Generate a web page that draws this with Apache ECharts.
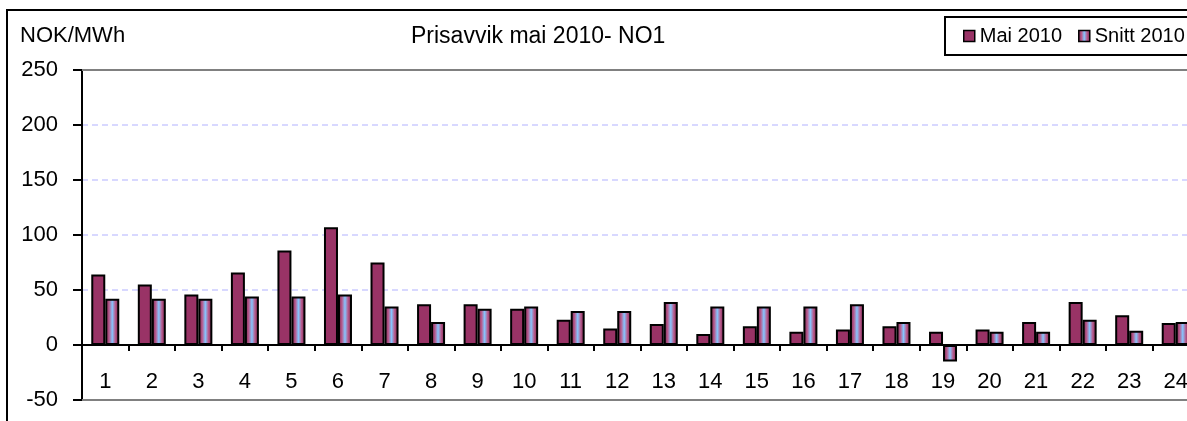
<!DOCTYPE html>
<html>
<head>
<meta charset="utf-8">
<script src="https://cdn.jsdelivr.net/npm/echarts@6/dist/echarts.min.js"></script>
<style>
html,body{margin:0;padding:0;background:#fff;}
#chart{width:1187px;height:421px;}
</style>
</head>
<body>
<div id="chart"></div>
<script>
const categories = ['1','2','3','4','5','6','7','8','9','10','11','12','13','14','15','16','17','18','19','20','21','22','23','24'];
const mai2010 = [64, 55, 46, 66, 86, 107, 75, 37, 37, 33, 23, 15, 19, 10, 17, 12, 14, 17, 12, 14, 21, 39, 27, 20];
const snitt2010 = [42, 42, 42, 44, 44, 46, 35, 21, 33, 35, 31, 31, 39, 35, 35, 35, 37, 21, -15, 12, 12, 23, 13, 21];
const titleText = 'Prisavvik mai 2010- NO1';
const unitText = 'NOK/MWh';

const FONT = "'Liberation Sans', Arial, sans-serif";
const chart = echarts.init(document.getElementById('chart'), null, {renderer: 'canvas'});

const snittFill = new echarts.graphic.LinearGradient(0, 0, 1, 0, [
  {offset: 0, color: '#6e1f48'},
  {offset: 0.28, color: '#b85a8c'},
  {offset: 0.5, color: '#86c6ff'},
  {offset: 0.72, color: '#b85a8c'},
  {offset: 1, color: '#6e1f48'}
]);

chart.setOption({
  animation: false,
  backgroundColor: '#fff',
  title: [
    {text: titleText, left: 406, top: 20, padding: 5, textStyle: {fontFamily: FONT, fontSize: 23, fontWeight: 'normal', color: '#000'}},
    {text: unitText, left: 15, top: 20, padding: 5, textStyle: {fontFamily: FONT, fontSize: 22, fontWeight: 'normal', color: '#000'}}
  ],
  graphic: [
    {type: 'rect', z: 0, silent: true, shape: {x: 7, y: 10, width: 1200, height: 430}, style: {fill: 'none', stroke: '#000', lineWidth: 2}},
    {type: 'rect', z: 0, silent: true, shape: {x: 945, y: 17, width: 260, height: 38}, style: {fill: '#fff', stroke: '#000', lineWidth: 2}}
  ],
  legend: {
    data: ['Mai 2010', 'Snitt 2010'],
    left: 958, top: 21, width: 300, z: 10,
    orient: 'horizontal',
    icon: 'rect', itemWidth: 11, itemHeight: 11, itemGap: 16,
    textStyle: {fontFamily: FONT, fontSize: 20, color: '#000'},
    itemStyle: {borderColor: '#000', borderWidth: 1.5}
  },
  grid: {left: 82, top: 70, width: 1117, height: 330, containLabel: false, outerBoundsMode: 'none'},
  xAxis: {
    type: 'category',
    data: categories,
    axisLine: {onZero: true, lineStyle: {color: '#000', width: 2}},
    axisTick: {show: true, length: 6, lineStyle: {color: '#000', width: 2}},
    axisLabel: {fontFamily: FONT, fontSize: 22, color: '#000', margin: -29},
    splitLine: {show: false}
  },
  yAxis: {
    type: 'value', min: -50, max: 250, interval: 50,
    axisLine: {show: true, lineStyle: {color: '#000', width: 2}},
    axisTick: {show: true, length: 9, lineStyle: {color: '#000', width: 2}},
    axisLabel: {fontFamily: FONT, fontSize: 22, color: '#000', margin: 24},
    splitLine: {show: true, lineStyle: {color: '#ccccff', type: [6, 4], width: 1.5}}
  },
  series: [
    {
      name: 'Mai 2010', type: 'bar', data: mai2010,
      barWidth: 14, barGap: '0%',
      itemStyle: {color: '#993366', borderColor: '#000', borderWidth: 2},
      markLine: {
        silent: true, symbol: 'none', label: {show: false},
        lineStyle: {color: '#808080', type: 'solid', width: 2},
        data: [{yAxis: 250}, {yAxis: -50}]
      }
    },
    {
      name: 'Snitt 2010', type: 'bar', data: snitt2010,
      barWidth: 14,
      itemStyle: {color: snittFill, borderColor: '#000', borderWidth: 2}
    }
  ]
});
</script>
</body>
</html>
